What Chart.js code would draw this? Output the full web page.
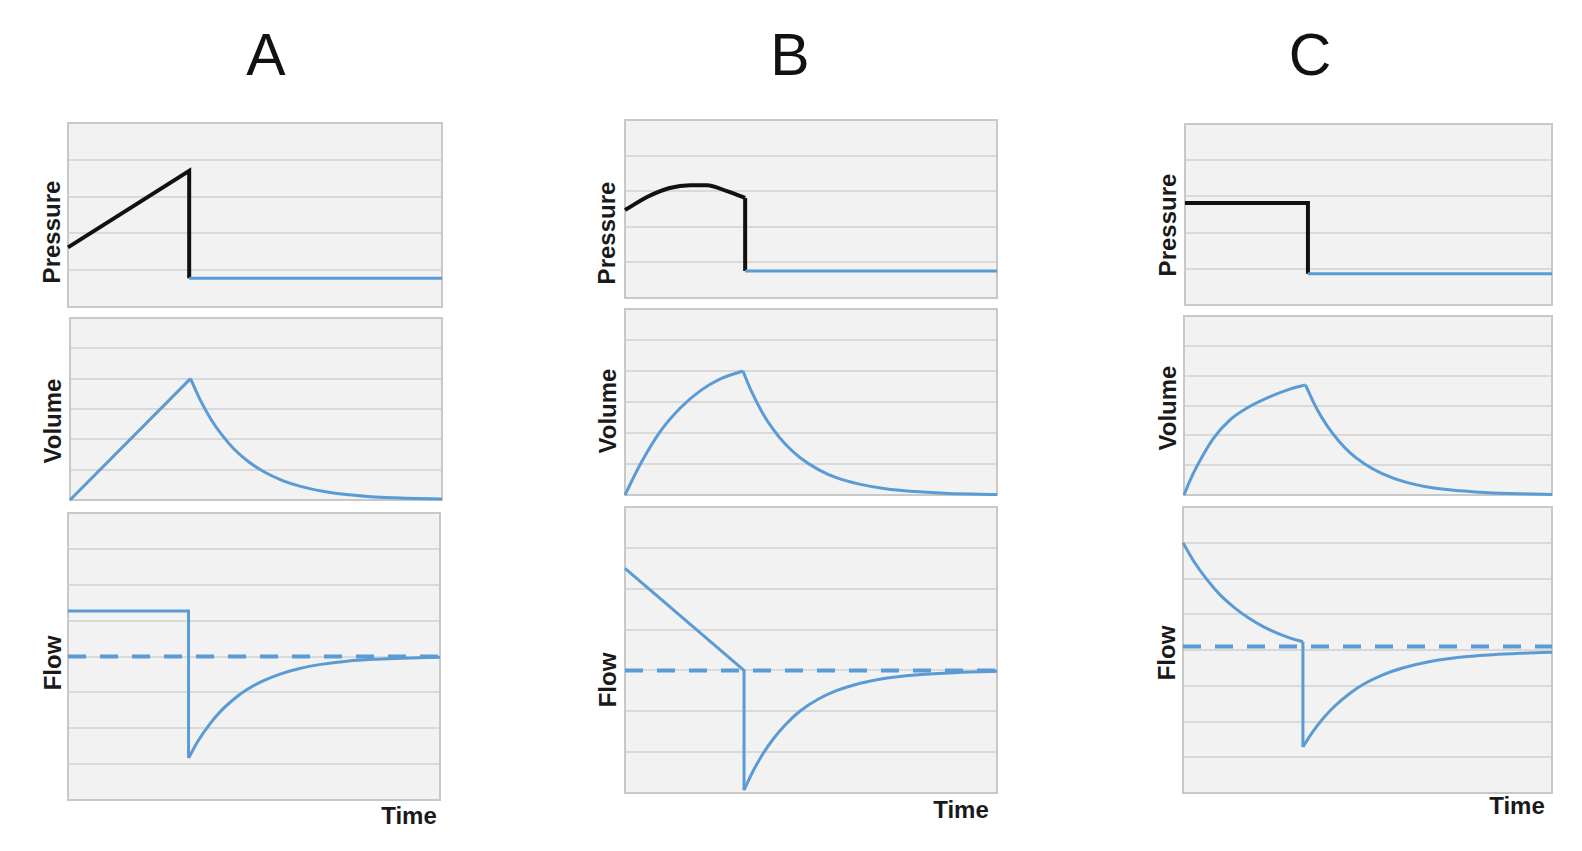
<!DOCTYPE html>
<html>
<head>
<meta charset="utf-8">
<script src="https://cdn.jsdelivr.net/npm/chart.js@4.4.1/dist/chart.umd.min.js"></script>
<style>
html, body { margin: 0; padding: 0; background: #fff; }
body { width: 1582px; height: 851px; position: relative; overflow: hidden; font-family: "Liberation Sans", Arial, sans-serif; }
canvas { position: absolute; }
.title { position: absolute; font-size: 59px; line-height: 1; color: #111; transform: translate(-50%, -50%); }
.lab { position: absolute; font-size: 24px; font-weight: bold; line-height: 1; white-space: nowrap; color: #1a1a1a; transform: translate(-50%, -50%) rotate(-90deg); }
.time { position: absolute; font-size: 24px; font-weight: bold; line-height: 1; white-space: nowrap; color: #1a1a1a; transform: translate(-50%, -50%); }
</style>
</head>
<body>
<div class="title" style="left:266px; top:55px;">A</div>
<div class="title" style="left:790px; top:55px;">B</div>
<div class="title" style="left:1310px; top:55px;">C</div>

<div class="lab" style="left:52px; top:232px;">Pressure</div>
<div class="lab" style="left:53px; top:421px;">Volume</div>
<div class="lab" style="left:53px; top:663px;">Flow</div>
<div class="time" style="left:409px; top:816px;">Time</div>

<div class="lab" style="left:607px; top:233px;">Pressure</div>
<div class="lab" style="left:608px; top:411px;">Volume</div>
<div class="lab" style="left:608px; top:680px;">Flow</div>
<div class="time" style="left:961px; top:810px;">Time</div>

<div class="lab" style="left:1168px; top:225px;">Pressure</div>
<div class="lab" style="left:1168px; top:408px;">Volume</div>
<div class="lab" style="left:1167px; top:653px;">Flow</div>
<div class="time" style="left:1517px; top:806px;">Time</div>

<script>
// time axis runs 0..100 (% of the trace), values are in gridline units

// ---- A : volume control, constant flow
const pressA_t = [0, 32.4, 32.4];
const pressA_v = [1.62, 3.7, 0.78];
const pressA_exp_t = [32.4, 100];
const pressA_exp_v = [0.78, 0.78];

const volA_in_t = [0, 32.4];
const volA_in_v = [0, 4.0];
const volA_ex_t = [32.4, 35, 38, 41, 44, 48, 52, 57, 62, 68, 75, 82, 90, 100];
const volA_ex_v = [4.0, 3.3, 2.64, 2.12, 1.69, 1.26, 0.94, 0.65, 0.45, 0.29, 0.17, 0.1, 0.06, 0.03];

const flowA_in_t = [0, 32.4, 32.4];
const flowA_in_v = [5.27, 5.27, 1.17];
const flowA_ex_t = [32.4, 35, 38, 41, 44, 48, 52, 57, 62, 68, 75, 82, 90, 100];
const flowA_ex_v = [1.17, 1.65, 2.1, 2.47, 2.76, 3.07, 3.3, 3.51, 3.66, 3.78, 3.87, 3.92, 3.95, 3.98];
const zeroA = 4;

// ---- B : decelerating flow
const pressB_t = [0, 6.2, 12, 17.5, 22, 27.4, 32.3];
const pressB_v = [2.47, 2.85, 3.09, 3.17, 3.17, 3.0, 2.81];
const pressB_drop_t = [32.3, 32.3];
const pressB_drop_v = [2.81, 0.76];
const pressB_exp_t = [32.3, 100];
const pressB_exp_v = [0.76, 0.76];

const volB_in_t = [0, 4, 9.4, 14.8, 20.2, 25.5, 31.7];
const volB_in_v = [0, 0.97, 2.04, 2.8, 3.36, 3.74, 4.0];
const volB_ex_t = [31.7, 34, 37, 40, 43, 47, 52, 57, 63, 70, 78, 87, 100];
const volB_ex_v = [4.0, 3.34, 2.64, 2.09, 1.65, 1.21, 0.82, 0.55, 0.35, 0.2, 0.11, 0.05, 0.02];

const flowB_in_t = [0, 32, 32];
const flowB_in_v = [5.5, 3.0, 0.07];
const flowB_ex_t = [32, 34.5, 37, 40, 43, 47, 52, 57, 63, 70, 78, 87, 100];
const flowB_ex_v = [0.07, 0.55, 0.95, 1.34, 1.66, 2.0, 2.3, 2.51, 2.68, 2.81, 2.89, 2.94, 2.98];
const zeroB = 3;

// ---- C : pressure control
const pressC_t = [0, 33.5, 33.5];
const pressC_v = [2.82, 2.82, 0.86];
const pressC_exp_t = [33.5, 100];
const pressC_exp_v = [0.86, 0.86];

const volC_in_t = [0, 1.5, 3.45, 8, 12.5, 17, 23.4, 28.8, 33];
const volC_in_v = [0, 0.45, 0.95, 1.9, 2.52, 2.91, 3.3, 3.55, 3.69];
const volC_ex_t = [33, 36, 39, 42, 45, 49, 54, 60, 67, 75, 84, 100];
const volC_ex_v = [3.69, 2.91, 2.3, 1.82, 1.43, 1.05, 0.71, 0.44, 0.25, 0.14, 0.07, 0.02];

const flowC_in_t = [0, 3, 6.5, 10, 14, 18, 22, 26, 29.5, 32.5];
const flowC_in_v = [7.0, 6.47, 5.97, 5.55, 5.18, 4.88, 4.64, 4.45, 4.32, 4.23];
const flowC_drop_t = [32.5, 32.5];
const flowC_drop_v = [4.23, 1.29];
const flowC_ex_t = [32.5, 35, 38, 41, 45, 49, 54, 60, 67, 75, 84, 92, 100];
const flowC_ex_v = [1.29, 1.69, 2.09, 2.42, 2.77, 3.05, 3.3, 3.51, 3.68, 3.8, 3.87, 3.91, 3.94];
const zeroC = 4.1;

const BLUE = '#5b9bd5';
const BLACK = '#111111';

function pts(t, v) {
    return t.map(function(x, i) { return {x: x, y: v[i]}; });
}

function line(t, v, color, width, smooth, dash) {
    return {
        data: pts(t, v),
        borderColor: color,
        borderWidth: width,
        borderDash: dash || [],
        tension: smooth ? 0.4 : 0,
        cubicInterpolationMode: smooth ? 'monotone' : 'default',
        fill: false,
        clip: false,
        pointRadius: 0
    };
}

function zeroLine(z) {
    return line([0, 100], [z, z], BLUE, 4, false, [18, 14]);
}

// gray panel background + frame
const panelBox = {
    id: 'panelBox',
    beforeDraw(chart) {
        const a = chart.chartArea;
        const ctx = chart.ctx;
        ctx.save();
        ctx.fillStyle = '#f2f2f2';
        ctx.fillRect(a.left, a.top, a.right - a.left, a.bottom - a.top);
        ctx.restore();
    },
    beforeDatasetsDraw(chart) {
        const a = chart.chartArea;
        const ctx = chart.ctx;
        ctx.save();
        ctx.strokeStyle = '#c8c8c8';
        ctx.lineWidth = 2;
        ctx.strokeRect(a.left, a.top, a.right - a.left, a.bottom - a.top);
        ctx.restore();
    }
};

const panels = [
    {box: [68, 123, 374, 184], yMax: 5, series: [
        line(pressA_exp_t, pressA_exp_v, BLUE, 3, false),
        line(pressA_t, pressA_v, BLACK, 4, false)
    ]},
    {box: [70, 318, 372, 182], yMax: 6, series: [
        line(volA_in_t, volA_in_v, BLUE, 3, false),
        line(volA_ex_t, volA_ex_v, BLUE, 3, true)
    ]},
    {box: [68, 513, 372, 287], yMax: 8, series: [
        zeroLine(zeroA),
        line(flowA_in_t, flowA_in_v, BLUE, 3, false),
        line(flowA_ex_t, flowA_ex_v, BLUE, 3, true)
    ]},

    {box: [625, 120, 372, 178], yMax: 5, series: [
        line(pressB_exp_t, pressB_exp_v, BLUE, 3, false),
        line(pressB_t, pressB_v, BLACK, 4, true),
        line(pressB_drop_t, pressB_drop_v, BLACK, 4, false)
    ]},
    {box: [625, 309, 372, 186], yMax: 6, series: [
        line(volB_in_t, volB_in_v, BLUE, 3, true),
        line(volB_ex_t, volB_ex_v, BLUE, 3, true)
    ]},
    {box: [625, 507, 372, 286], yMax: 7, series: [
        zeroLine(zeroB),
        line(flowB_in_t, flowB_in_v, BLUE, 3, false),
        line(flowB_ex_t, flowB_ex_v, BLUE, 3, true)
    ]},

    {box: [1185, 124, 367, 181], yMax: 5, series: [
        line(pressC_exp_t, pressC_exp_v, BLUE, 3, false),
        line(pressC_t, pressC_v, BLACK, 4, false)
    ]},
    {box: [1184, 316, 368, 179], yMax: 6, series: [
        line(volC_in_t, volC_in_v, BLUE, 3, true),
        line(volC_ex_t, volC_ex_v, BLUE, 3, true)
    ]},
    {box: [1183, 507, 369, 286], yMax: 8, series: [
        zeroLine(zeroC),
        line(flowC_in_t, flowC_in_v, BLUE, 3, true),
        line(flowC_drop_t, flowC_drop_v, BLUE, 3, false),
        line(flowC_ex_t, flowC_ex_v, BLUE, 3, true)
    ]}
];

const pad = 4;
panels.forEach(function(p) {
    const c = document.createElement('canvas');
    c.width = p.box[2] + 2 * pad;
    c.height = p.box[3] + 2 * pad;
    c.style.left = (p.box[0] - pad) + 'px';
    c.style.top = (p.box[1] - pad) + 'px';
    document.body.appendChild(c);

    new Chart(c.getContext('2d'), {
        type: 'line',
        data: { datasets: p.series },
        options: {
            responsive: false,
            animation: false,
            layout: { padding: pad },
            plugins: {
                legend: { display: false },
                tooltip: { enabled: false }
            },
            elements: { point: { radius: 0 } },
            scales: {
                x: { type: 'linear', min: 0, max: 100, display: false },
                y: {
                    min: 0,
                    max: p.yMax,
                    ticks: { display: false, stepSize: 1 },
                    grid: { color: '#d9d9d9', lineWidth: 2, drawTicks: false },
                    border: { display: false }
                }
            }
        },
        plugins: [panelBox]
    });
});
</script>
</body>
</html>
